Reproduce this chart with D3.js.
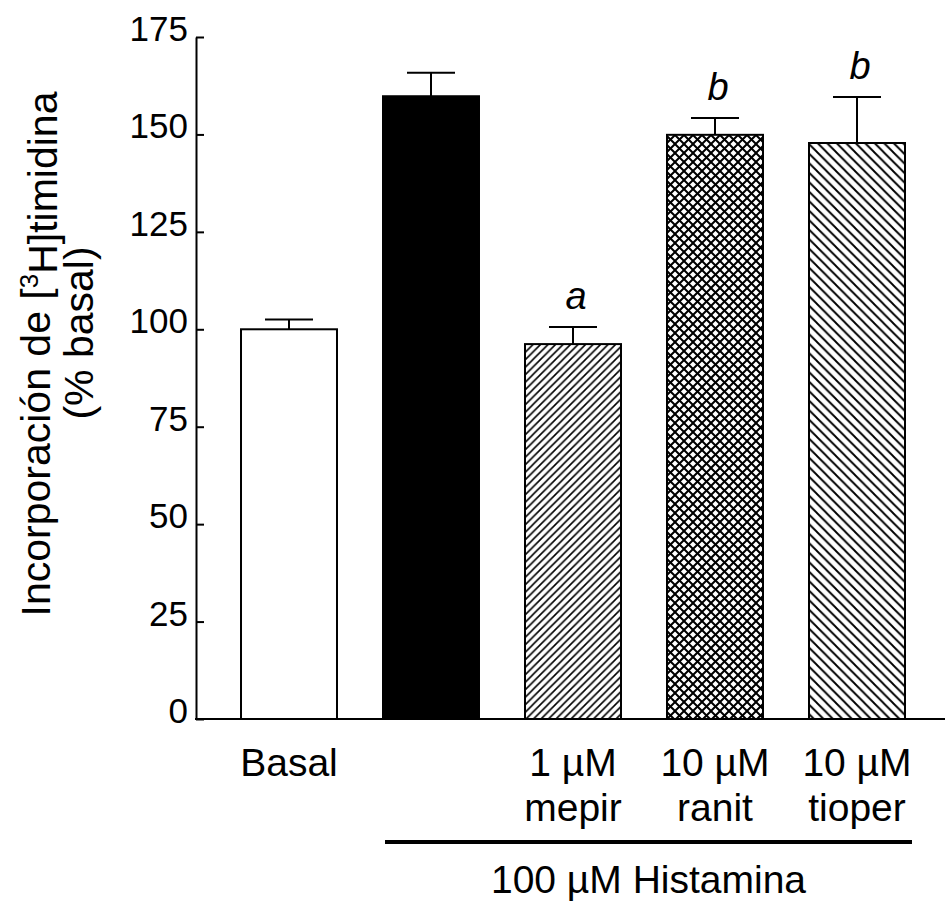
<!DOCTYPE html>
<html lang="es">
  <head>
    <meta charset="UTF-8" />
    <title>Incorporación de [3H]timidina</title>
    <style>
      body {
        margin: 0;
        background: #fff;
      }
      svg text {
        font-family: "Liberation Sans", Arial, sans-serif;
        fill: #000;
      }
    </style>
  </head>
  <body>
    <div id="chart"></div>
    <script src="https://d3js.org/d3.v7.min.js"></script>
    <script>
      // values (% basal)
      const categories = ["Basal", "Histamina", "mepir", "ranit", "tioper"];
      const values = [100, 159.8, 96.2, 149.9, 147.8];
      const errors = [2.5, 6, 4.4, 4.3, 11.8];
      const letters = ["", "", "a", "b", "b"];
      const labelLines = [["Basal"], [], ["1 µM", "mepir"], ["10 µM", "ranit"], ["10 µM", "tioper"]];
      const fills = ["white", "black", "url(#hatchUp)", "url(#cross)", "url(#hatchDown)"];
      const yTicks = [0, 25, 50, 75, 100, 125, 150, 175];
      const groupLabel = "100 µM Histamina";

      const width = 947,
        height = 908;

      const svg = d3
        .select("#chart")
        .append("svg")
        .attr("width", width)
        .attr("height", height);

      // hatch patterns
      const defs = svg.append("defs");
      function hatch(id, w, dirs, sw) {
        const p = defs
          .append("pattern")
          .attr("id", id)
          .attr("patternUnits", "userSpaceOnUse")
          .attr("width", w)
          .attr("height", w);
        p.append("rect").attr("width", w).attr("height", w).attr("fill", "white");
        if (dirs.includes("up")) {
          p.append("path")
            .attr("d", `M0,${w} L${w},0 M${-w / 2},${w / 2} L${w / 2},${-w / 2} M${w / 2},${1.5 * w} L${1.5 * w},${w / 2}`)
            .attr("stroke", "black")
            .attr("stroke-width", sw);
        }
        if (dirs.includes("down")) {
          p.append("path")
            .attr("d", `M0,0 L${w},${w} M${-w / 2},${w / 2} L${w / 2},${1.5 * w} M${w / 2},${-w / 2} L${1.5 * w},${w / 2}`)
            .attr("stroke", "black")
            .attr("stroke-width", sw);
        }
      }
      hatch("hatchUp", 7.5, ["up"], 1.6);
      hatch("cross", 9, ["up", "down"], 2);
      hatch("hatchDown", 9.5, ["down"], 1.9);

      const x = d3
        .scaleBand()
        .domain(categories)
        .range([218, 928])
        .paddingInner(0.324)
        .paddingOuter(0.162);

      const y = d3.scaleLinear().domain([0, 175]).range([719, 37]);

      // bars
      svg
        .selectAll(".bar")
        .data(categories)
        .enter()
        .append("rect")
        .attr("class", "bar")
        .attr("x", (d) => x(d))
        .attr("y", (d, i) => y(values[i]))
        .attr("width", x.bandwidth())
        .attr("height", (d, i) => y(0) - y(values[i]))
        .attr("fill", (d, i) => fills[i])
        .attr("stroke", "black")
        .attr("stroke-width", 2);

      // error bars (upper only)
      const cap = 24;
      categories.forEach((c, i) => {
        const cx = x(c) + x.bandwidth() / 2;
        const top = y(values[i] + errors[i]);
        svg.append("line")
          .attr("x1", cx).attr("x2", cx)
          .attr("y1", y(values[i])).attr("y2", top)
          .attr("stroke", "black").attr("stroke-width", 2);
        svg.append("line")
          .attr("x1", cx - cap).attr("x2", cx + cap)
          .attr("y1", top).attr("y2", top)
          .attr("stroke", "black").attr("stroke-width", 2);
        if (letters[i]) {
          svg.append("text")
            .attr("x", cx + 3)
            .attr("y", top - 18)
            .attr("text-anchor", "middle")
            .style("font-size", "38px")
            .style("font-style", "italic")
            .text(letters[i]);
        }
      });

      // y axis
      const yAxis = svg
        .append("g")
        .attr("transform", "translate(196,0)")
        .call(d3.axisLeft(y).tickValues(yTicks).tickSize(-8).tickSizeOuter(0).tickPadding(8));
      yAxis.select(".domain").attr("stroke-width", 2);
      yAxis.selectAll(".tick line").attr("stroke-width", 2);
      yAxis.selectAll(".tick text")
        .attr("dy", "0.1em")
        .style("font-size", "35px")
        .style("font-family", "'Liberation Sans', Arial, sans-serif");

      // x baseline
      svg.append("line")
        .attr("x1", 195).attr("x2", 945)
        .attr("y1", y(0)).attr("y2", y(0))
        .attr("stroke", "black").attr("stroke-width", 2);

      // category labels
      categories.forEach((c, i) => {
        const cx = x(c) + x.bandwidth() / 2;
        labelLines[i].forEach((t, k) => {
          svg.append("text")
            .attr("x", cx)
            .attr("y", 776 + k * 45)
            .attr("text-anchor", "middle")
            .style("font-size", "39px")
            .text(t);
        });
      });

      // group bracket under the histamine bars
      const gx1 = x("Histamina") + 2,
        gx2 = x("tioper") + x.bandwidth() + 7;
      svg.append("line")
        .attr("x1", gx1).attr("x2", gx2)
        .attr("y1", 842).attr("y2", 842)
        .attr("stroke", "black").attr("stroke-width", 4);
      svg.append("text")
        .attr("x", (gx1 + gx2) / 2)
        .attr("y", 893)
        .attr("text-anchor", "middle")
        .style("font-size", "39px")
        .text(groupLabel);

      // y title
      const t1 = svg.append("text")
        .attr("transform", "translate(50,354) rotate(-90)")
        .attr("text-anchor", "middle")
        .style("font-size", "41px");
      t1.append("tspan").text("Incorporación de [");
      t1.append("tspan").attr("dy", "-0.45em").style("font-size", "26px").text("3");
      t1.append("tspan").attr("dy", "0.45em").text("H]timidina");

      svg.append("text")
        .attr("transform", "translate(93,333) rotate(-90)")
        .attr("text-anchor", "middle")
        .style("font-size", "41px")
        .text("(% basal)");
    </script>
  </body>
</html>
